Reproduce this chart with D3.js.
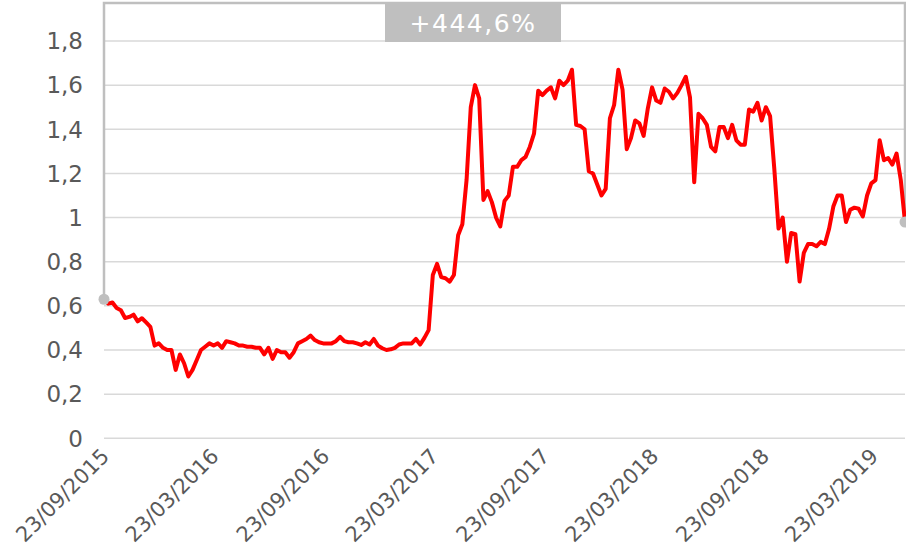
<!DOCTYPE html>
<html>
<head>
<meta charset="utf-8">
<script src="https://cdn.jsdelivr.net/npm/d3@7"></script>
<style>
  body { margin: 0; background: #fff; }
  svg { display: block; font-family: "DejaVu Sans", sans-serif; }
</style>
</head>
<body>
<svg id="chart" width="906" height="559"></svg>
<script>
// weekly closes, first week = 23/09/2015
const startDate = new Date(2015, 8, 23);
const weeklyValues = [
  0.63, 0.61, 0.615, 0.59, 0.58, 0.545, 0.55, 0.56, 0.53, 0.544,
  0.525, 0.505, 0.42, 0.43, 0.41, 0.40, 0.40, 0.31, 0.38, 0.34,
  0.28, 0.31, 0.355, 0.40, 0.415, 0.43, 0.42, 0.43, 0.41, 0.44,
  0.435, 0.43, 0.42, 0.42, 0.415, 0.415, 0.41, 0.41, 0.38, 0.41,
  0.36, 0.40, 0.39, 0.39, 0.365, 0.39, 0.43, 0.44, 0.45, 0.465,
  0.445, 0.435, 0.43, 0.43, 0.43, 0.44, 0.46, 0.44, 0.435, 0.435,
  0.43, 0.423, 0.435, 0.425, 0.45, 0.42, 0.408, 0.40, 0.403, 0.41,
  0.425, 0.43, 0.43, 0.43, 0.45, 0.425, 0.455, 0.49, 0.74, 0.79,
  0.73, 0.725, 0.71, 0.74, 0.92, 0.97, 1.17, 1.50, 1.60, 1.54,
  1.08, 1.12, 1.07, 1.00, 0.96, 1.075, 1.10, 1.23, 1.23, 1.26,
  1.275, 1.32, 1.38, 1.575, 1.555, 1.575, 1.59, 1.54, 1.62, 1.60,
  1.62, 1.67, 1.42, 1.415, 1.40, 1.21, 1.20, 1.15, 1.10, 1.13,
  1.45, 1.51, 1.67, 1.58, 1.31, 1.36, 1.44, 1.427, 1.37, 1.495,
  1.59, 1.53, 1.52, 1.585, 1.57, 1.54, 1.565, 1.60, 1.638, 1.545,
  1.16, 1.47, 1.45, 1.42, 1.32, 1.30, 1.41, 1.41, 1.36, 1.42,
  1.35, 1.33, 1.33, 1.49, 1.48, 1.52, 1.44, 1.50, 1.46, 1.22,
  0.95, 1.00, 0.80, 0.93, 0.925, 0.71, 0.84, 0.88, 0.88, 0.87,
  0.89, 0.88, 0.95, 1.05, 1.10, 1.10, 0.98, 1.035, 1.045, 1.04,
  1.005, 1.10, 1.155, 1.17, 1.35, 1.26, 1.27, 1.24, 1.29, 1.17,
  0.98
];
const tickDates = ['23/09/2015', '23/03/2016', '23/09/2016', '23/03/2017',
                   '23/09/2017', '23/03/2018', '23/09/2018', '23/03/2019'];
const yTicks = [0, 0.2, 0.4, 0.6, 0.8, 1, 1.2, 1.4, 1.6, 1.8];
const changeLabel = '+444,6%';

const parseDay = d3.timeParse('%d/%m/%Y');
const data = weeklyValues.map((v, i) => ({ date: d3.timeWeek.offset(startDate, i), value: v }));

const svg = d3.select('#chart');
const plotLeft = 104, plotRight = 905, bracketTop = 3, plotBottom = 438.3, gridTop = 41;

const x = d3.scaleTime()
  .domain(d3.extent(data, d => d.date))
  .range([plotLeft, plotRight]);
const y = d3.scaleLinear()
  .domain([0, 1.8])
  .range([plotBottom, gridTop]);

const locale = d3.formatLocale({ decimal: ',', thousands: '.', grouping: [3], currency: ['', '€'] });
const fmt = locale.format('.1~f');

// gridlines
svg.append('g')
  .selectAll('line')
  .data(yTicks)
  .enter().append('line')
    .attr('x1', plotLeft).attr('x2', plotRight)
    .attr('y1', d => y(d)).attr('y2', d => y(d))
    .attr('stroke', '#d9d9d9')
    .attr('stroke-width', 1.5);

// y labels
svg.append('g')
  .selectAll('text')
  .data(yTicks)
  .enter().append('text')
    .attr('x', 83)
    .attr('y', d => y(d))
    .attr('dy', '0.36em')
    .attr('text-anchor', 'end')
    .attr('fill', '#595959')
    .style('font-size', '23px')
    .text(d => fmt(d));

// x labels
svg.append('g')
  .selectAll('text')
  .data(tickDates)
  .enter().append('text')
    .attr('text-anchor', 'end')
    .attr('fill', '#595959')
    .style('font-size', '21px')
    .attr('transform', d => `translate(${x(parseDay(d)) + 1},${plotBottom + 14})rotate(-45)`)
    .attr('dy', '0.36em')
    .text(d => d);

// bracket from first to last point
const first = data[0], last = data[data.length - 1];
svg.append('path')
  .attr('d', `M${x(first.date)},${y(first.value)}V${bracketTop}H${x(last.date)}V${y(last.value)}`)
  .attr('fill', 'none')
  .attr('stroke', '#bfbfbf')
  .attr('stroke-width', 2.5);

// price line
const line = d3.line()
  .x(d => x(d.date))
  .y(d => y(d.value));

svg.append('path')
  .datum(data)
  .attr('d', line)
  .attr('fill', 'none')
  .attr('stroke', '#ff0000')
  .attr('stroke-width', 4)
  .attr('stroke-linejoin', 'round')
  .attr('stroke-linecap', 'round');

svg.selectAll('.end-dot')
  .data([first, last])
  .enter().append('circle')
    .attr('class', 'end-dot')
    .attr('cx', d => x(d.date))
    .attr('cy', d => y(d.value))
    .attr('r', 5.5)
    .attr('fill', '#bfbfbf');

// change label
const box = svg.append('g').attr('transform', 'translate(385,2)');
box.append('rect')
  .attr('width', 176)
  .attr('height', 40)
  .attr('fill', '#bfbfbf');
box.append('text')
  .attr('x', 88)
  .attr('y', 30)
  .attr('text-anchor', 'middle')
  .attr('fill', '#fff')
  .style('font-size', '25px')
  .style('letter-spacing', '1.5px')
  .text(changeLabel);
</script>
</body>
</html>
